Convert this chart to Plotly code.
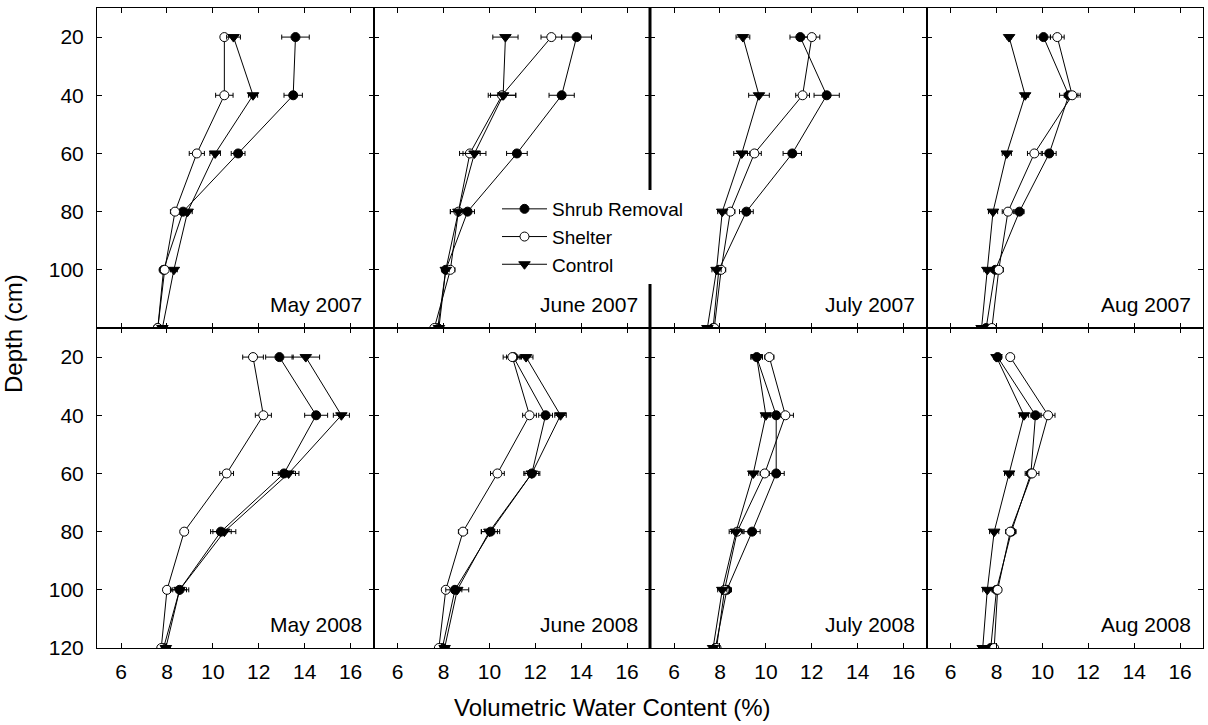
import plotly.graph_objects as go
from plotly.subplots import make_subplots

depths = [20, 40, 60, 80, 100, 120]
panels = ["May 2007", "June 2007", "July 2007", "Aug 2007",
          "May 2008", "June 2008", "July 2008", "Aug 2008"]
series_names = ["Shrub Removal", "Shelter", "Control"]

# Volumetric water content (%) per panel
shrub_removal = [
    [13.6, 13.5, 11.1, 8.7, 7.85, 7.6],
    [13.8, 13.15, 11.2, 9.05, 8.1, 7.75],
    [11.5, 12.65, 11.15, 9.15, 7.95, 7.7],
    [10.05, 11.15, 10.3, 9.0, 7.95, 7.55],
    [12.9, 14.5, 13.1, 10.35, 8.55, 7.85],
    [11.05, 12.45, 11.85, 10.05, 8.5, 7.95],
    [9.6, 10.45, 10.45, 9.4, 8.3, 7.8],
    [8.05, 9.7, 9.5, 8.65, 8.0, 7.75],
]
shelter = [
    [10.5, 10.5, 9.3, 8.35, 7.9, 7.6],
    [12.7, 10.55, 9.15, 8.65, 8.3, 7.6],
    [12.0, 11.6, 9.5, 8.45, 8.05, 7.75],
    [10.65, 11.3, 9.65, 8.5, 8.1, 7.8],
    [11.75, 12.2, 10.6, 8.75, 8.0, 7.75],
    [11.0, 11.75, 10.35, 8.85, 8.1, 7.8],
    [10.15, 10.85, 9.95, 8.75, 8.2, 7.85],
    [8.6, 10.25, 9.55, 8.6, 8.05, 7.9],
]
control = [
    [10.9, 11.75, 10.1, 8.9, 8.3, 7.8],
    [10.7, 10.6, 9.35, 8.65, 8.1, 7.8],
    [9.0, 9.7, 8.95, 8.1, 7.85, 7.45],
    [8.55, 9.25, 8.45, 7.85, 7.6, 7.35],
    [14.05, 15.6, 13.3, 10.5, 8.55, 7.95],
    [11.6, 13.1, 11.85, 10.0, 8.6, 8.05],
    [9.6, 10.0, 9.45, 8.7, 8.1, 7.7],
    [8.0, 9.2, 8.55, 7.9, 7.6, 7.4],
]
# Standard errors
shrub_removal_se = [
    [0.6, 0.4, 0.3, 0.25, 0.1, 0.1],
    [0.65, 0.55, 0.45, 0.3, 0.15, 0.1],
    [0.45, 0.55, 0.4, 0.3, 0.15, 0.1],
    [0.3, 0.4, 0.3, 0.2, 0.15, 0.1],
    [0.6, 0.5, 0.5, 0.45, 0.3, 0.1],
    [0.3, 0.3, 0.35, 0.4, 0.3, 0.1],
    [0.25, 0.3, 0.35, 0.35, 0.2, 0.1],
    [0.15, 0.2, 0.2, 0.2, 0.15, 0.1],
]
shelter_se = [
    [0.05, 0.38, 0.33, 0.2, 0.1, 0.1],
    [0.45, 0.6, 0.45, 0.35, 0.2, 0.1],
    [0.35, 0.3, 0.3, 0.2, 0.2, 0.1],
    [0.3, 0.35, 0.3, 0.25, 0.2, 0.1],
    [0.45, 0.35, 0.3, 0.15, 0.15, 0.1],
    [0.4, 0.3, 0.3, 0.2, 0.15, 0.1],
    [0.2, 0.35, 0.2, 0.25, 0.2, 0.15],
    [0.15, 0.3, 0.3, 0.2, 0.15, 0.1],
]
control_se = [
    [0.3, 0.2, 0.23, 0.2, 0.15, 0.1],
    [0.55, 0.55, 0.5, 0.35, 0.15, 0.1],
    [0.3, 0.45, 0.35, 0.2, 0.2, 0.1],
    [0.1, 0.15, 0.2, 0.2, 0.15, 0.1],
    [0.6, 0.35, 0.45, 0.5, 0.4, 0.2],
    [0.3, 0.25, 0.3, 0.35, 0.5, 0.2],
    [0.25, 0.2, 0.2, 0.3, 0.2, 0.15],
    [0.1, 0.2, 0.2, 0.2, 0.2, 0.15],
]

x_ticks = [6, 8, 10, 12, 14, 16]
y_ticks_top = [20, 40, 60, 80, 100]
y_ticks_bottom = [20, 40, 60, 80, 100, 120]

FONT = "Arial, Liberation Sans, sans-serif"

fig = make_subplots(rows=2, cols=4, horizontal_spacing=0, vertical_spacing=0)

styles = [
    dict(symbol="circle", color="black", size=9, line=dict(color="black", width=1)),
    dict(symbol="circle", color="white", size=9, line=dict(color="black", width=1)),
    dict(symbol="triangle-down", color="black", size=10, line=dict(color="black", width=1)),
]
data_sets = [shrub_removal, shelter, control]
err_sets = [shrub_removal_se, shelter_se, control_se]

for p in range(8):
    r = p // 4 + 1
    c = p % 4 + 1
    for s in range(3):
        fig.add_trace(go.Scatter(
            x=data_sets[s][p], y=depths, mode="lines+markers",
            name=series_names[s], legendgroup=series_names[s],
            showlegend=(p == 0),
            line=dict(color="black", width=1),
            marker=styles[s],
            error_x=dict(type="data", array=err_sets[s][p], color="black",
                         thickness=1, width=2.5),
        ), row=r, col=c)
    fig.add_annotation(text=panels[p], xref="x domain", yref="y domain",
                       x=0.965, y=0.072, xanchor="right", yanchor="middle",
                       showarrow=False, font=dict(size=21, color="black", family=FONT),
                       row=r, col=c)

for r in (1, 2):
    for c in range(1, 5):
        fig.update_xaxes(range=[4.95, 17.0], tickvals=x_ticks, automargin=False,
                         showticklabels=(r == 2), ticks="inside", ticklen=5,
                         tickcolor="black", showline=True, linecolor="black",
                         linewidth=1, mirror="ticks", showgrid=False,
                         zeroline=False, ticklabelstandoff=5,
                         tickfont=dict(size=21, color="black", family=FONT),
                         row=r, col=c)
        fig.update_yaxes(range=[120, 10], automargin=False,
                         tickvals=(y_ticks_top if r == 1 else y_ticks_bottom),
                         showticklabels=(c == 1), ticks="inside", ticklen=5,
                         tickcolor="black", showline=True, linecolor="black",
                         linewidth=1, mirror="ticks", showgrid=False,
                         zeroline=False, ticklabelstandoff=8,
                         tickfont=dict(size=21, color="black", family=FONT),
                         row=r, col=c)

# thicker central divider
fig.add_shape(type="line", xref="paper", yref="paper", x0=0.5, x1=0.5, y0=0, y1=1,
              line=dict(color="black", width=3))

W, H = 1208, 725
L, R, T, B = 97, 5, 8, 77
pw, ph = W - L - R, H - T - B

fig.add_annotation(text="Volumetric Water Content (%)", xref="paper", yref="paper",
                   x=(612 - L) / pw, y=(H - B - 707) / ph, xanchor="center", yanchor="middle",
                   showarrow=False, font=dict(size=24, color="black", family=FONT))
fig.add_annotation(text="Depth (cm)", xref="paper", yref="paper",
                   x=(13 - L) / pw, y=(H - B - 334) / ph, xanchor="center", yanchor="middle",
                   textangle=-90, showarrow=False,
                   font=dict(size=24, color="black", family=FONT))

fig.update_layout(
    width=W, height=H,
    margin=dict(l=L, r=R, t=T, b=B, autoexpand=False),
    paper_bgcolor="white", plot_bgcolor="white",
    font=dict(family=FONT, color="black"),
    legend=dict(x=(497 - L) / pw, y=(H - B - 190) / ph, xanchor="left", yanchor="top",
                bgcolor="white", borderwidth=0,
                font=dict(size=19, color="black", family=FONT),
                itemwidth=45, tracegroupgap=0),
)

fig.write_html("out.html", config={"displayModeBar": False},
               post_script="document.body.style.margin='0';document.body.style.overflow='hidden';")
